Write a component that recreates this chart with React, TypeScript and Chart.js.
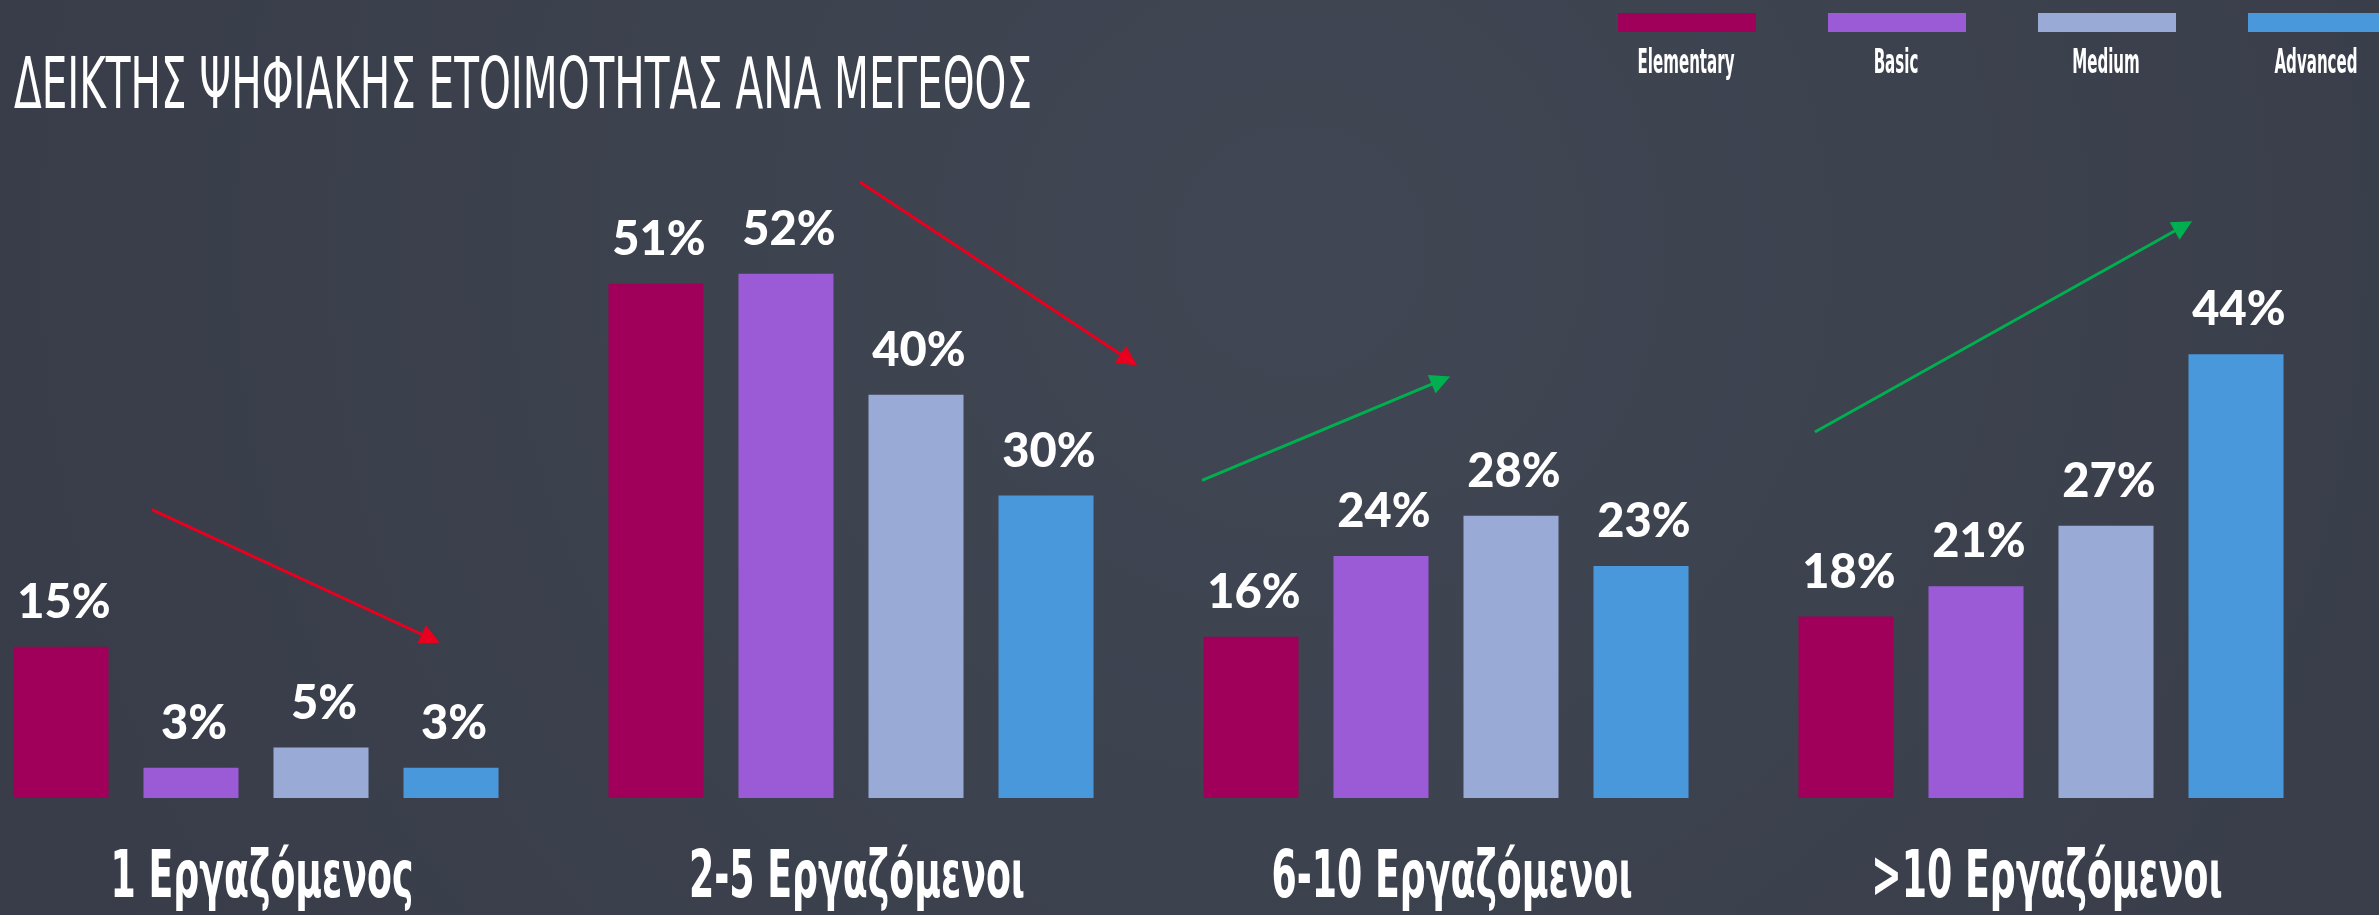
import React, { useEffect, useRef } from "react";
import { Chart, registerables } from "chart.js";

Chart.register(...registerables);

// ---------- data ----------
const categories = ["1 Εργαζόμενος", "2-5 Εργαζόμενοι", "6-10 Εργαζόμενοι", ">10 Εργαζόμενοι"];
const seriesNames = ["Elementary", "Basic", "Medium", "Advanced"];
const elementary = [15, 51, 16, 18];
const basic = [3, 52, 24, 21];
const medium = [5, 40, 28, 27];
const advanced = [3, 30, 23, 44];
const chartTitle = "ΔΕΙΚΤΗΣ ΨΗΦΙΑΚΗΣ ΕΤΟΙΜΟΤΗΤΑΣ ΑΝΑ ΜΕΓΕΘΟΣ";
// trend arrows in data units: [category position, value %]
const arrowFrom = [[-0.175, 28.6], [1.015, 61.1], [1.59, 31.5], [2.62, 36.3]];
const arrowTo = [[0.309, 15.4], [1.481, 42.9], [2.007, 41.8], [3.254, 57.2]];
const arrowKinds = ["down", "down", "up", "up"];

// ---------- style ----------
const W = 2379;
const H = 915;
const BG = "#3d424f";
const seriesColors = ["#a0005a", "#9b5bd6", "#98aad5", "#4a98dc"];
const arrowColors: Record<string, string> = { down: "#e8001e", up: "#00b050" };
const condensedFamily = "'DejaVu Sans Condensed', 'DejaVu Sans', sans-serif";

function drawFitted(ctx: CanvasRenderingContext2D, text: string, x: number, y: number, font: string, sx: number, align: CanvasTextAlign) {
  ctx.save();
  ctx.font = font;
  ctx.textAlign = align;
  ctx.textBaseline = "alphabetic";
  ctx.translate(x, y);
  ctx.scale(sx, 1);
  ctx.fillText(text, 0, 0);
  ctx.restore();
}

function fitScale(ctx: CanvasRenderingContext2D, text: string, font: string, target: number) {
  ctx.save();
  ctx.font = font;
  const w = ctx.measureText(text).width;
  ctx.restore();
  return target / w;
}

const decorPlugin = {
  id: "decor",
  beforeDraw(chart: any) {
    const ctx = chart.ctx as CanvasRenderingContext2D;
    ctx.save();
    ctx.fillStyle = BG;
    ctx.fillRect(0, 0, chart.width, chart.height);
    const g = ctx.createRadialGradient(1300, 250, 50, 1300, 250, 1400);
    g.addColorStop(0, "rgba(72,78,92,0.35)");
    g.addColorStop(1, "rgba(44,48,58,0.3)");
    ctx.fillStyle = g;
    ctx.fillRect(0, 0, chart.width, chart.height);
    ctx.restore();
  },
  afterDatasetsDraw(chart: any) {
    const ctx = chart.ctx as CanvasRenderingContext2D;
    const xs = chart.scales.x;
    const ys = chart.scales.y;

    // value labels
    ctx.save();
    ctx.fillStyle = "#ffffff";
    ctx.font = "900 47px Lato, 'Open Sans', sans-serif";
    ctx.textAlign = "center";
    ctx.textBaseline = "alphabetic";
    chart.data.datasets.forEach((ds: any, di: number) => {
      const meta = chart.getDatasetMeta(di);
      meta.data.forEach((bar: any, i: number) => {
        ctx.fillText(ds.data[i] + "%", bar.x + 3, bar.y - 29);
      });
    });
    ctx.restore();

    // trend arrows
    arrowFrom.forEach((f, i) => {
      const t = arrowTo[i];
      const x1 = xs.getPixelForValue(f[0]);
      const y1 = ys.getPixelForValue(f[1]);
      const x2 = xs.getPixelForValue(t[0]);
      const y2 = ys.getPixelForValue(t[1]);
      const col = arrowColors[arrowKinds[i]];
      const ang = Math.atan2(y2 - y1, x2 - x1);
      const head = 20;
      ctx.save();
      ctx.strokeStyle = col;
      ctx.fillStyle = col;
      ctx.lineWidth = 3;
      ctx.beginPath();
      ctx.moveTo(x1, y1);
      ctx.lineTo(x2 - Math.cos(ang) * head * 0.8, y2 - Math.sin(ang) * head * 0.8);
      ctx.stroke();
      ctx.beginPath();
      ctx.moveTo(x2, y2);
      ctx.lineTo(x2 - Math.cos(ang) * head + Math.sin(ang) * head * 0.5, y2 - Math.sin(ang) * head - Math.cos(ang) * head * 0.5);
      ctx.lineTo(x2 - Math.cos(ang) * head - Math.sin(ang) * head * 0.5, y2 - Math.sin(ang) * head + Math.cos(ang) * head * 0.5);
      ctx.closePath();
      ctx.fill();
      ctx.restore();
    });

    // category labels
    ctx.save();
    ctx.fillStyle = "#ffffff";
    const catFont = "bold 66px " + condensedFamily;
    const catScale = fitScale(ctx, categories[0], catFont, 303);
    categories.forEach((c, i) => {
      drawFitted(ctx, c, xs.getPixelForValue(i) + 6, 897, catFont, catScale, "center");
    });
    // title
    const titleFont = "normal 72px " + condensedFamily;
    const titleScale = fitScale(ctx, chartTitle, titleFont, 1018);
    drawFitted(ctx, chartTitle, 14, 108, titleFont, titleScale, "left");
    // legend
    const legFont = "bold 33px " + condensedFamily;
    const legScale = fitScale(ctx, chart.data.datasets[0].label, legFont, 97);
    chart.data.datasets.forEach((ds: any, di: number) => {
      const lx = 1618 + di * 210;
      ctx.fillStyle = ds.backgroundColor;
      ctx.fillRect(lx, 13, 138, 19);
      ctx.fillStyle = "#ffffff";
      drawFitted(ctx, ds.label, lx + 68, 73, legFont, legScale, "center");
    });
    ctx.restore();
  },
};

export default function App() {
  const canvasRef = useRef<HTMLCanvasElement | null>(null);

  useEffect(() => {
    const canvas = canvasRef.current;
    if (!canvas) return;
    const values = [elementary, basic, medium, advanced];
    const chart = new Chart(canvas, {
      type: "bar",
      data: {
        labels: categories,
        datasets: seriesNames.map((name, i) => ({
          label: name,
          data: values[i],
          backgroundColor: seriesColors[i],
          borderWidth: 0,
          clip: false as any,
          categoryPercentage: 0.874,
          barPercentage: 0.731,
        })),
      },
      options: {
        animation: false,
        responsive: false,
        maintainAspectRatio: false,
        layout: { padding: { left: 256, right: W - 2041, top: 193, bottom: H - 798 } },
        plugins: { legend: { display: false }, title: { display: false }, tooltip: { enabled: false } },
        scales: {
          x: { type: "category", offset: false, display: false, grid: { display: false } },
          y: { min: 0, max: 60, display: false, grid: { display: false } },
        },
      },
      plugins: [decorPlugin],
    });
    return () => chart.destroy();
  }, []);

  return (
    <div style={{ position: "fixed", left: 0, top: 0, width: W, height: H, background: BG }}>
      <canvas ref={canvasRef} width={W} height={H} style={{ display: "block", width: W, height: H }} />
    </div>
  );
}
